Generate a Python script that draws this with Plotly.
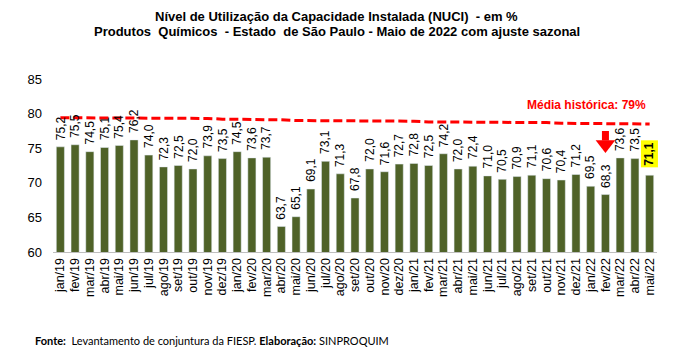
import plotly.graph_objects as go

months = ["jan/19","fev/19","mar/19","abr/19","mai/19","jun/19","jul/19","ago/19","set/19","out/19","nov/19","dez/19",
          "jan/20","fev/20","mar/20","abr/20","mai/20","jun/20","jul/20","ago/20","set/20","out/20","nov/20","dez/20",
          "jan/21","fev/21","mar/21","abr/21","mai/21","jun/21","jul/21","ago/21","set/21","out/21","nov/21","dez/21",
          "jan/22","fev/22","mar/22","abr/22","mai/22"]
nuci = [75.2,75.5,74.5,75.1,75.4,76.2,74.0,72.3,72.5,72.0,73.9,73.5,
        74.5,73.6,73.7,63.7,65.1,69.1,73.1,71.3,67.8,72.0,71.6,72.7,
        72.8,72.5,74.2,72.0,72.4,71.0,70.5,70.9,71.1,70.6,70.4,71.2,
        69.5,68.3,73.6,73.5,71.1]
media_hist = [79.4,79.4,79.4,79.4,79.4,79.4,79.3,79.3,79.3,79.3,79.3,79.2,
              79.2,79.2,79.2,79.1,79.0,79.0,79.0,79.0,78.9,78.9,78.9,78.9,
              78.9,78.8,78.8,78.8,78.8,78.8,78.7,78.7,78.7,78.7,78.6,78.6,
              78.6,78.5,78.5,78.5,78.5]
title_lines = ["Nível de Utilização da Capacidade Instalada (NUCI)  - em %",
               "Produtos  Químicos  - Estado  de São Paulo - Maio de 2022 com ajuste sazonal"]

labels = [f"{v:.1f}".replace(".", ",") for v in nuci]

fig = go.Figure()
fig.add_trace(go.Bar(
    x=months, y=nuci, marker_color="#4F6228", width=0.55,
))
fig.add_trace(go.Scatter(
    x=months, y=media_hist, mode="lines",
    line=dict(color="#FF0000", width=3, dash="9px,4px"),
))

# value labels
for i, (m, v, lab) in enumerate(zip(months, nuci, labels)):
    last = i == len(months) - 1
    fig.add_annotation(x=m, y=v, text=("<b>" + lab + "</b>") if last else lab,
                       textangle=-90, showarrow=False, yanchor="bottom", yshift=5 if not last else 7,
                       bgcolor="#FFFF00" if last else None,
                       font=dict(family="Liberation Sans", size=12, color="#000000"),
                       borderpad=1)
# historical average label
fig.add_annotation(x=35.7, y=81.2, text="<b>Média histórica: 79%</b>", showarrow=False,
                   font=dict(family="Liberation Sans", size=12, color="#FF0000"))
# red block arrow above fev/22: shaft + head
fig.add_annotation(x=months[37], y=76.1, ax=0, ay=-11, text="", showarrow=True,
                   arrowhead=0, arrowwidth=7, arrowcolor="#FF0000")
fig.add_trace(go.Scatter(x=[months[37]], y=[75.55], mode="markers",
                         marker=dict(symbol="triangle-down", size=17, color="#FF0000", line_width=0)))

# title lines
fig.add_annotation(xref="paper", yref="paper", x=0.47, y=1.364, text="<b>" + title_lines[0] + "</b>",
                   showarrow=False, yanchor="middle", font=dict(family="Liberation Sans", size=13, color="#000000"))
fig.add_annotation(xref="paper", yref="paper", x=0.47, y=1.272, text="<b>" + title_lines[1] + "</b>",
                   showarrow=False, yanchor="middle", font=dict(family="Liberation Sans", size=13, color="#000000"))

fig.update_layout(
    width=674, height=357, showlegend=False,
    plot_bgcolor="white", paper_bgcolor="white",
    margin=dict(l=53, r=17, t=79, b=105),
    xaxis=dict(tickangle=-90, tickfont=dict(family="Liberation Sans", size=12.5, color="#000000"),
               tickmode="array", tickvals=months, ticktext=months,
               showline=True, linecolor="#BFBFBF", linewidth=1, ticks="", showgrid=False,
               range=[-0.5, 40.5]),
    yaxis=dict(range=[60, 85], dtick=5, showgrid=False, zeroline=False, showline=False,
               tickfont=dict(family="Liberation Sans", size=13, color="#000000"), ticks="",
               ticklabelstandoff=10),
)
fig.add_annotation(xref="paper", yref="paper", x=-0.033, y=-0.51, xanchor="left", yanchor="middle",
                   showarrow=False,
                   text="<b>Fonte:</b>  Levantamento de conjuntura da FIESP. <b>Elaboração:</b> SINPROQUIM",
                   font=dict(family="Lato", size=11, color="#000000"))

fig.write_html("out.html", config={"displayModeBar": False},
               post_script="document.body.style.margin='0';")
